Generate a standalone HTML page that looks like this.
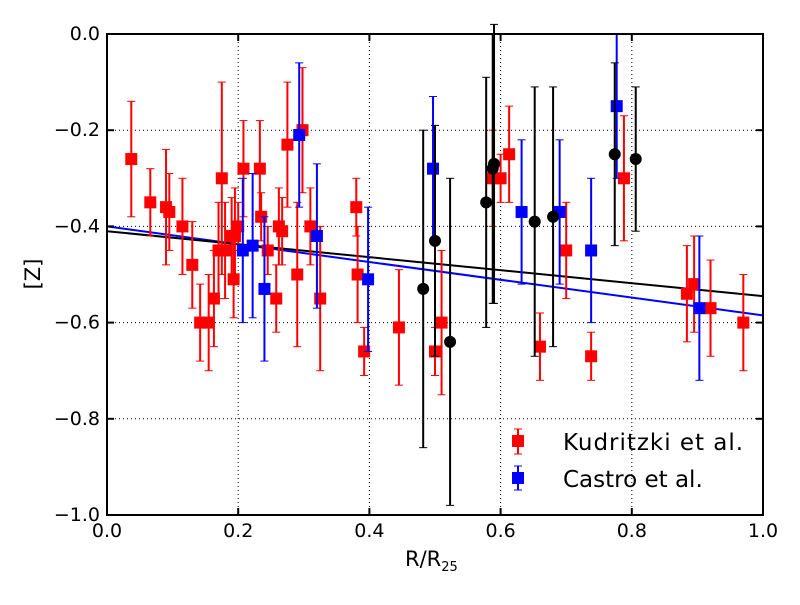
<!DOCTYPE html>
<html><head><meta charset="utf-8"><style>
body{margin:0;background:#fff}
svg text{font-family:"DejaVu Sans","Liberation Sans",sans-serif;fill:#000}
</style></head><body>
<svg id="chart" width="800" height="600">
<rect width="800" height="600" fill="#fff"/>
<g id="grid"></g><g id="lines"></g><g id="marks"></g><g id="axes"></g>
</svg>
<script>
const redX=[0.037,0.066,0.09,0.095,0.115,0.13,0.142,0.155,0.163,0.17,0.175,0.18,0.19,0.193,0.195,0.2,0.208,0.233,0.235,0.245,0.258,0.262,0.267,0.275,0.29,0.298,0.31,0.325,0.38,0.382,0.392,0.445,0.5,0.51,0.588,0.6,0.613,0.66,0.7,0.738,0.788,0.884,0.895,0.92,0.97];
const redY=[-0.26,-0.35,-0.36,-0.37,-0.40,-0.48,-0.60,-0.60,-0.55,-0.45,-0.30,-0.45,-0.42,-0.51,-0.42,-0.40,-0.28,-0.28,-0.38,-0.45,-0.55,-0.40,-0.41,-0.23,-0.50,-0.20,-0.40,-0.55,-0.36,-0.50,-0.66,-0.61,-0.66,-0.60,-0.30,-0.30,-0.25,-0.65,-0.45,-0.67,-0.30,-0.54,-0.52,-0.57,-0.60];
const redErr=[0.12,0.07,0.12,0.08,0.10,0.09,0.08,0.10,0.10,0.10,0.20,0.10,0.08,0.08,0.10,0.05,0.10,0.10,0.05,0.05,0.07,0.08,0.07,0.13,0.15,0.13,0.08,0.15,0.06,0.10,0.05,0.12,0.05,0.15,0.10,0.05,0.10,0.07,0.10,0.05,0.13,0.10,0.10,0.10,0.10];
const blueX=[0.207,0.222,0.24,0.293,0.32,0.398,0.497,0.632,0.69,0.738,0.777,0.903];
const blueY=[-0.45,-0.44,-0.53,-0.21,-0.42,-0.51,-0.28,-0.37,-0.37,-0.45,-0.15,-0.57];
const blueErr=[0.15,0.15,0.15,0.15,0.15,0.15,0.15,0.15,0.15,0.15,0.15,0.15];
const blackX=[0.482,0.5,0.523,0.578,0.588,0.59,0.652,0.68,0.774,0.806];
const blackY=[-0.53,-0.43,-0.64,-0.35,-0.28,-0.27,-0.39,-0.38,-0.25,-0.26];
const blackErr=[0.33,0.24,0.34,0.26,0.28,0.29,0.28,0.27,0.19,0.15];
const fitBlack=[-0.41,-0.545];
const fitBlue=[-0.40,-0.585];
const xTicks=[0,0.2,0.4,0.6,0.8,1.0];
const yTicks=[0,-0.2,-0.4,-0.6,-0.8,-1.0];
const X0=107,X1=763,Y0=34,Y1=515;
const sx=v=>X0+(X1-X0)*v, sy=v=>Y0+(Y1-Y0)*(-v);
const NS="http://www.w3.org/2000/svg";
function mk(tag,attrs,parent){const e=document.createElementNS(NS,tag);for(const k in attrs)e.setAttribute(k,attrs[k]);document.getElementById(parent).appendChild(e);return e;}
xTicks.slice(1,-1).forEach(t=>{const l=mk('line',{x1:sx(t),x2:sx(t),y1:Y0,y2:Y1,stroke:'#000','stroke-width':1,'stroke-dasharray':'1,3'},'grid');

});
yTicks.slice(1,-1).forEach(t=>{const l=mk('line',{x1:X0,x2:X1,y1:sy(t),y2:sy(t),stroke:'#000','stroke-width':1,'stroke-dasharray':'1,3'},'grid');

});
[[fitBlue,'#0000ff','blue-fit-line'],[fitBlack,'#000','black-fit-line']].forEach(([f,c,n])=>{const l=mk('line',{x1:sx(0),y1:sy(f[0]),x2:sx(1),y2:sy(f[1]),stroke:c,'stroke-width':2},'lines');

});
function series(xs,ys,es,color,shape,name){
 xs.forEach((x,i)=>{
  const px=sx(x),py=sy(ys[i]),t=sy(ys[i]+es[i]),b=sy(ys[i]-es[i]);
  const g=mk('g',{},'marks');
  
  
  const a=(tag,at)=>{const e=document.createElementNS(NS,tag);for(const k in at)e.setAttribute(k,at[k]);g.appendChild(e);};
  a('line',{x1:px,x2:px,y1:t,y2:b,stroke:color,'stroke-width':2});
  a('line',{x1:px-4,x2:px+4,y1:t,y2:t,stroke:color,'stroke-width':1});
  a('line',{x1:px-4,x2:px+4,y1:b,y2:b,stroke:color,'stroke-width':1});
  if(shape==='sq')a('rect',{x:px-6,y:py-6,width:12,height:12,fill:color});
  else a('circle',{cx:px,cy:py,r:6,fill:color});
 });
}
series(redX,redY,redErr,'#ff0000','sq','kudritzki');
series(blueX,blueY,blueErr,'#0000ff','sq','castro');
series(blackX,blackY,blackErr,'#000000','ci','other');
const fr=mk('rect',{x:X0,y:Y0,width:X1-X0,height:Y1-Y0,fill:'none',stroke:'#000','stroke-width':2},'axes');


xTicks.forEach(t=>{
 mk('line',{x1:sx(t),x2:sx(t),y1:Y1,y2:Y1-7,stroke:'#000','stroke-width':2},'axes');
 mk('line',{x1:sx(t),x2:sx(t),y1:Y0,y2:Y0+7,stroke:'#000','stroke-width':2},'axes');
 const tx=mk('text',{x:sx(t),y:Y1+22,'text-anchor':'middle','font-size':19},'axes');
 tx.textContent=t.toFixed(1);
 
 
});
yTicks.forEach(t=>{
 mk('line',{x1:X0,x2:X0+7,y1:sy(t),y2:sy(t),stroke:'#000','stroke-width':2},'axes');
 mk('line',{x1:X1,x2:X1-7,y1:sy(t),y2:sy(t),stroke:'#000','stroke-width':2},'axes');
 const tx=mk('text',{x:X0-7,y:sy(t)+6,'text-anchor':'end','font-size':19},'axes');
 tx.textContent=t===0?'0.0':'\u2212'+Math.abs(t).toFixed(1);
 
 
});
</script>
<svg style="position:absolute;left:0;top:0" width="800" height="600">
<text x="405" y="566" font-size="21">R/R<tspan font-size="13" dy="5">25</tspan></text>
<text x="40" y="274" font-size="21" text-anchor="middle" transform="rotate(-90 40 274)">[Z]</text>
<g>
<line x1="518" x2="518" y1="429" y2="454" stroke="#f00" stroke-width="2"/><line x1="514" x2="522" y1="429" y2="429" stroke="#f00"/><line x1="514" x2="522" y1="454" y2="454" stroke="#f00"/>
<rect x="512" y="435" width="12" height="12" fill="#f00"/>
<text x="563" y="450" font-size="23" textLength="180">Kudritzki et al.</text></g>
<g>
<line x1="518" x2="518" y1="466" y2="490" stroke="#00f" stroke-width="2"/><line x1="514" x2="522" y1="466" y2="466" stroke="#00f"/><line x1="514" x2="522" y1="490" y2="490" stroke="#00f"/>
<rect x="512" y="472" width="12" height="12" fill="#00f"/>
<text x="563" y="487" font-size="23">Castro et al.</text></g>
</svg>
</body></html>
